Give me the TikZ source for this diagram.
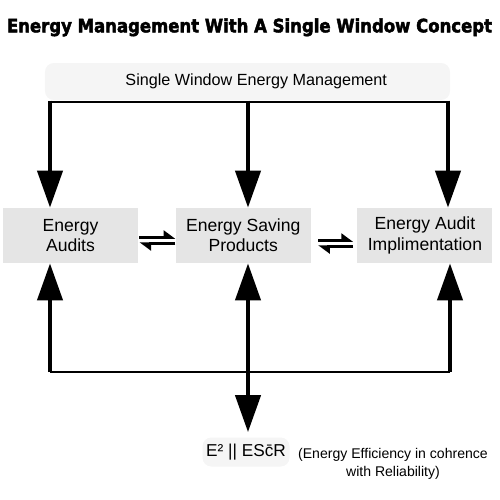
\documentclass[tikz,border=0pt]{standalone}
\usepackage{fontspec}
\setmainfont{Liberation Sans}
\newfontfamily\headfont{DejaVu Sans}[BoldFeatures={FakeBold=2.5}]
\usetikzlibrary{arrows.meta,positioning,calc}
\tikzset{
  box/.style={fill=black!10, align=center, minimum width=2.7cm, minimum height=1.1cm, inner sep=2pt,
    font=\fontsize{10}{11.5}\selectfont},
  softbox/.style={fill=black!4, rounded corners=5pt, align=center, inner sep=2pt},
  note/.style={align=center, font=\fontsize{8}{10.2}\selectfont},
  bus/.style={line width=0.6pt},
  feed/.style={line width=2.4pt, -{Triangle[length=7.4mm, width=5mm]}},
  feedboth/.style={line width=2.4pt, {Triangle[length=7.4mm, width=5mm]}-{Triangle[length=7.4mm, width=5mm]}},
  swap/.style={line width=1.7pt, -{Triangle[harpoon, length=2mm, width=2.8mm]}}
}

\begin{document}
\begin{tikzpicture}[x=0.2mm, y=-0.2mm]
\useasboundingbox (0,0) rectangle (500,500);

% heading
\node[anchor=base, inner sep=0pt] (head) at (249.5,32.3)
  {\resizebox{9.7cm}{0.28cm}{\headfont\bfseries Energy Management With A Single Window Concept}};

% boxes
\node[softbox, minimum width=8.1cm, minimum height=0.74cm, font=\fontsize{9.2}{11}\selectfont] (window) at (247.5,81.5)
  {\hspace{0.35cm}Single Window Energy Management};
\node[box] (audit) at (70.5,235.5) {Energy\\Audits};
\node[box, right=0.74cm of audit] (saving) {Energy Saving\\Products};
\node[box, right=0.92cm of saving] (implement) {Energy Audit\\Implimentation};
\node[softbox, minimum width=1.74cm, minimum height=0.58cm, font=\fontsize{9.8}{11}\selectfont] (esr) at (246,452)
  {E² || ES\={c}R};
\node[note] (note) at (393,464) {(Energy Efficiency in cohrence\\with Reliability)};

% bus points
\coordinate (tl) at (50,102);
\coordinate (tm) at (248,102);
\coordinate (tr) at (448,102);
\coordinate (bl) at (50,372);
\coordinate (bm) at (248,372);
\coordinate (br) at (450,372);

% top feed
\draw[bus] (tl) -- (tr);
\foreach \p/\n in {tl/audit, tm/saving, tr/implement}
  \draw[feed] ([yshift=0.3mm]\p) -- (\p |- \n.north);

% bottom feed
\draw[bus] (bl) -- (br);
\draw[feed] (bl) -- (bl |- audit.south);
\draw[feed] (br) -- (br |- implement.south);
\draw[feedboth] (bm |- saving.south) -- ([yshift=1mm]bm |- esr.north);

% two way links
\draw[swap, shorten <=0.2mm] ([yshift=-0.4mm]audit.east) -- ([yshift=-0.4mm]saving.west);
\draw[swap, shorten >=0.2mm] ([yshift=-1.6mm]saving.west) -- ([yshift=-1.6mm]audit.east);
\draw[swap, shorten <=1.4mm, shorten >=0.8mm] ([yshift=-1mm]saving.east) -- ([yshift=-1mm]implement.west);
\draw[swap, shorten <=0.8mm, shorten >=1.4mm] ([yshift=-2.2mm]implement.west) -- ([yshift=-2.2mm]saving.east);
\end{tikzpicture}
\end{document}
